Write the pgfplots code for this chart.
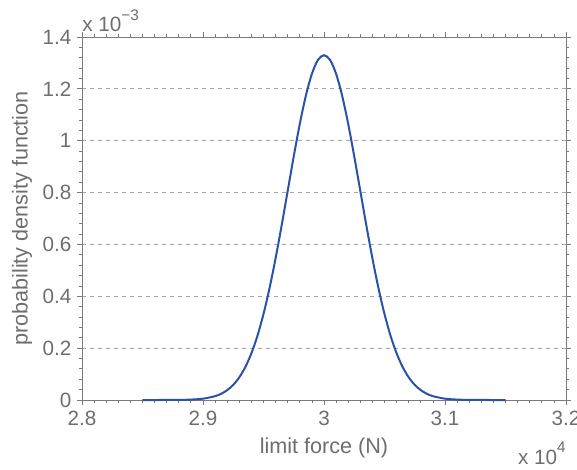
\documentclass[border=0pt]{standalone}
\usepackage{fontspec}
\setmainfont{Liberation Sans}
\usepackage{pgfplots}
\pgfplotsset{compat=1.18}
\definecolor{txtgray}{HTML}{6E6E6E}
\definecolor{axgray}{HTML}{7A7A7A}
\definecolor{gridgray}{HTML}{A8A8A8}
\definecolor{curveblue}{HTML}{2A52A6}
\newcommand{\lfont}{\fontsize{15.5}{18}\selectfont}
\newcommand{\Lfont}{\fontsize{16.2}{19}\selectfont}
\begin{document}
\begin{tikzpicture}
\path[use as bounding box] (-61.5pt,-51.75pt) rectangle (371.25pt,300pt);
\begin{axis}[
  scale only axis,
  width=363pt, height=272.25pt,
  xmin=2.8, xmax=3.2, ymin=0, ymax=1.4,
  xtick={2.8,2.9,3,3.1,3.2},
  xticklabels={2.8,2.9,3,3.1,3.2},
  ytick={0,0.2,0.4,0.6,0.8,1,1.2,1.4},
  yticklabels={0,0.2,0.4,0.6,0.8,1,1.2,1.4},
  minor xtick={2.81,2.82,...,3.195},
  minor ytick={0.04,0.08,...,1.39},
  tick align=outside,
  xtick pos=both, ytick pos=both,
  major tick length=3.4pt, minor tick length=2.2pt,
  every tick/.style={axgray, line width=0.6pt},
  axis line style={axgray, line width=0.7pt},
  ymajorgrids,
  major grid style={gridgray, dashed, line width=0.6pt},
  tick label style={font=\lfont, text=txtgray},
  /pgf/number format/assume math mode=true,
  xticklabel style={yshift=-1pt},
  yticklabel style={xshift=-1pt},
  label style={font=\Lfont, text=txtgray},
  xlabel={limit force (N)},
  ylabel={probability density function},
  xlabel style={at={(axis description cs:0.5,-0.132)}, anchor=center},
  ylabel style={at={(axis description cs:-0.124,0.5)}, anchor=center},
  clip=false,
]
\addplot[curveblue, line width=1.5pt, smooth] coordinates {
(2.850,0.00000) (2.865,0.00005) (2.880,0.00045) (2.890,0.0016) (2.900,0.0051)
(2.910,0.0148) (2.915,0.0240) (2.920,0.0380) (2.925,0.0584) (2.930,0.0874)
(2.935,0.1272) (2.940,0.1800) (2.945,0.2477) (2.950,0.3316) (2.955,0.4317)
(2.960,0.5467) (2.965,0.6733) (2.970,0.8066) (2.975,0.9397) (2.980,1.0648)
(2.985,1.1735) (2.990,1.2579) (2.995,1.3115) (3.000,1.3298)
(3.005,1.3115) (3.010,1.2579) (3.015,1.1735) (3.020,1.0648) (3.025,0.9397)
(3.030,0.8066) (3.035,0.6733) (3.040,0.5467) (3.045,0.4317) (3.050,0.3316)
(3.055,0.2477) (3.060,0.1800) (3.065,0.1272) (3.070,0.0874) (3.075,0.0584)
(3.080,0.0380) (3.085,0.0240) (3.090,0.0148) (3.100,0.0051) (3.110,0.0016)
(3.120,0.00045) (3.135,0.00005) (3.150,0.00000)
};
\node[anchor=base west, inner sep=0pt, text=txtgray, font=\lfont]
  at (axis description cs:0,1) [yshift=4pt] {x 10\raisebox{0.55em}{\fontsize{11.5}{13}\selectfont −3}};
\node[anchor=base east, inner sep=0pt, text=txtgray, font=\lfont]
  at (axis description cs:1,0) [yshift=-48pt] {x 10\raisebox{0.55em}{\fontsize{11.5}{13}\selectfont 4}};
\end{axis}
\end{tikzpicture}
\end{document}
